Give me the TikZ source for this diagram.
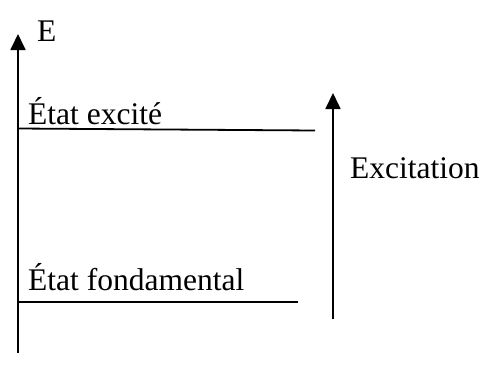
\documentclass[tikz,border=0pt]{standalone}
\usepackage{fontspec}
\setmainfont{Liberation Serif}
\usetikzlibrary{arrows.meta}
\begin{document}
\begin{tikzpicture}[x=1pt,y=-1pt,
  lbl/.style={anchor=base west,inner sep=0pt,font=\fontsize{31.5}{36}\selectfont},
  level/.style={line width=1.8pt},
  axisarrow/.style={line width=1.8pt,-{Triangle[length=16pt,width=15pt]}}]
  \useasboundingbox (0,0) rectangle (483,365);
  % energy axis
  \coordinate (axB) at (18,353);
  \coordinate (axT) at (18,34);
  \draw[axisarrow] (axB) -- (axT);
  \node[lbl] (E) at (37,41.5) {E};
  % excited level
  \coordinate (exL) at (18,128.5);
  \coordinate (exR) at (315,130.5);
  \draw[level] (exL) -- (exR);
  \node[lbl] (ex) at (28,124) {État excité};
  % ground level
  \coordinate (gsL) at (18,302);
  \coordinate (gsR) at (298,302);
  \draw[level] (gsL) -- (gsR);
  \node[lbl] (gs) at (28,290) {État fondamental};
  % excitation arrow
  \coordinate (xB) at (333,319);
  \coordinate (xT) at (333,93);
  \draw[axisarrow] (xB) -- (xT);
  \node[lbl] (xc) at (350,178.5) {Excitation};
\end{tikzpicture}
\end{document}
